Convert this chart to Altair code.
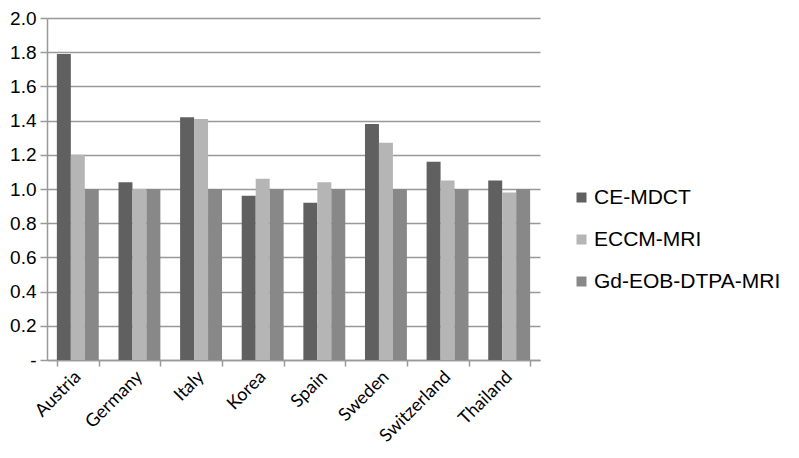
import altair as alt
import pandas as pd

countries = ["Austria", "Germany", "Italy", "Korea", "Spain", "Sweden", "Switzerland", "Thailand"]
series = ["CE-MDCT", "ECCM-MRI", "Gd-EOB-DTPA-MRI"]
ce_mdct = [1.79, 1.04, 1.42, 0.96, 0.92, 1.38, 1.16, 1.05]
eccm_mri = [1.20, 1.00, 1.41, 1.06, 1.04, 1.27, 1.05, 0.98]
gd_eob = [1.00, 1.00, 1.00, 1.00, 1.00, 1.00, 1.00, 1.00]
colors = ["#606060", "#b5b5b5", "#888888"]
y_ticks = [0, 0.2, 0.4, 0.6, 0.8, 1.0, 1.2, 1.4, 1.6, 1.8, 2.0]

rows = []
for vals, s in zip([ce_mdct, eccm_mri, gd_eob], series):
    for c, v in zip(countries, vals):
        rows.append({"country": c, "series": s, "value": v})
df = pd.DataFrame(rows)

chart = alt.Chart(df).mark_bar().encode(
    x=alt.X("country:N", sort=countries, title=None,
            scale=alt.Scale(paddingInner=0.32, paddingOuter=0.16),
            axis=alt.Axis(labelAngle=-45, labelAlign="right", labelBaseline="middle",
                          labelFont="Lato", labelFontSize=18, labelColor="#000000",
                          labelPadding=8, tickBand="extent", tickSize=6,
                          tickColor="#999999", domainColor="#999999", grid=False,
                          tickWidth=1.5, domainWidth=1.5)),
    xOffset=alt.XOffset("series:N", sort=series, scale=alt.Scale(paddingInner=0, paddingOuter=0)),
    y=alt.Y("value:Q", title=None,
            scale=alt.Scale(domain=[0, 2], nice=False),
            axis=alt.Axis(values=y_ticks,
                          labelExpr="datum.value == 0 ? '-' : format(datum.value, '.1f')",
                          labelFont="Liberation Sans", labelFontSize=19, labelColor="#000000",
                          labelPadding=4, tickSize=7, tickColor="#999999", tickWidth=1.5,
                          domainColor="#999999", domainWidth=1.5,
                          gridColor="#999999", gridWidth=1.5)),
    color=alt.Color("series:N", sort=series, title=None,
                    scale=alt.Scale(domain=series, range=colors),
                    legend=alt.Legend(orient="none", legendX=524, legendY=169,
                                      symbolType="square", symbolSize=100, symbolStrokeWidth=0,
                                      labelFont="Liberation Sans", labelFontSize=21,
                                      labelColor="#000000", labelOffset=2, rowPadding=20,
                                      labelLimit=300, padding=0)),
).properties(
    width=493, height=342,
    padding={"left": 39, "top": 10, "right": 251, "bottom": 90},
    autosize=alt.AutoSizeParams(type="none"),
).configure_view(stroke=None)

chart.save("out.html", embed_options={"renderer": "svg", "actions": False})
